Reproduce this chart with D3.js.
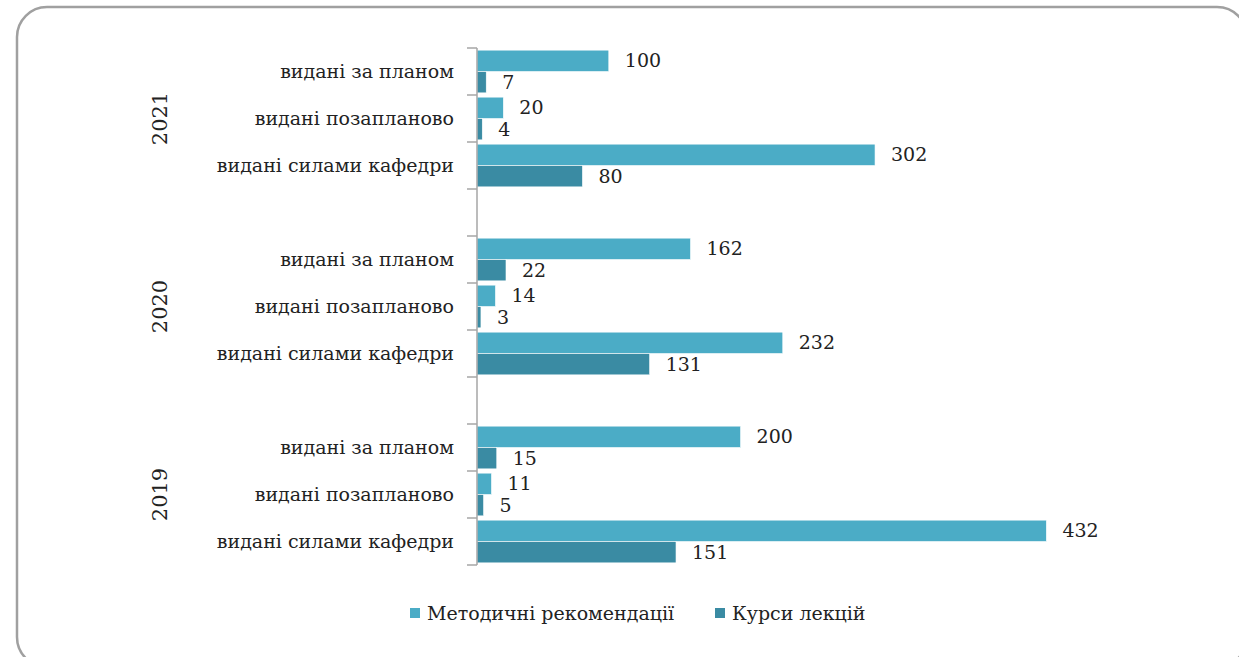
<!DOCTYPE html>
<html>
<head>
<meta charset="utf-8">
<script src="https://cdn.jsdelivr.net/npm/d3@7"></script>
<style>
  body { margin: 0; background: #fff; }
  text { font-family: "DejaVu Serif", "Liberation Serif", serif; fill: #222; }
</style>
</head>
<body>
<div id="chart"></div>
<script>
// data, top to bottom
var years = ["2021", "2020", "2019"];
var categories = ["видані за планом", "видані позапланово", "видані силами кафедри"];
var seriesNames = ["Методичні рекомендації", "Курси лекцій"];
var metodychni = [[100, 20, 302], [162, 14, 232], [200, 11, 432]];
var kursy = [[7, 4, 80], [22, 3, 131], [15, 5, 151]];

var colors = ["#4bacc6", "#3a8ba3"];

var W = 1239, H = 657;
var svg = d3.select("#chart").append("svg")
    .attr("width", W)
    .attr("height", H);

// frame
svg.append("rect")
    .attr("x", 17).attr("y", 7)
    .attr("width", 1230).attr("height", 660)
    .attr("rx", 30).attr("ry", 30)
    .attr("fill", "none")
    .attr("stroke", "#a0a0a0")
    .attr("stroke-width", 2.5);

// rows, with an empty row between year groups
var rows = [];
years.forEach(function(y, yi) {
    if (yi > 0) rows.push({ key: "gap" + yi, gap: true });
    categories.forEach(function(c, ci) {
        rows.push({ key: y + "|" + ci, year: y, cat: c, vals: [metodychni[yi][ci], kursy[yi][ci]] });
    });
});

var axisX = 477;
var y = d3.scaleBand()
    .domain(rows.map(function(d) { return d.key; }))
    .range([48, 565])
    .padding(0);

var inner = d3.scaleBand()
    .domain([0, 1])
    .range([0, y.bandwidth()])
    .paddingOuter(0.1)
    .paddingInner(0);

var x = d3.scaleLinear().domain([0, 500]).range([axisX, axisX + 659]);

var dataRows = rows.filter(function(d) { return !d.gap; });

// bars
var g = svg.selectAll(".row").data(dataRows).enter().append("g")
    .attr("class", "row")
    .attr("transform", function(d) { return "translate(0," + y(d.key) + ")"; });

g.selectAll("rect").data(function(d) { return d.vals; }).enter().append("rect")
    .attr("x", x(0))
    .attr("y", function(d, i) { return inner(i); })
    .attr("width", function(d) { return x(d) - x(0); })
    .attr("height", inner.bandwidth())
    .attr("fill", function(d, i) { return colors[i]; })
    .attr("stroke", "#fff")
    .attr("stroke-width", 0.6);

g.selectAll("text.val").data(function(d) { return d.vals; }).enter().append("text")
    .attr("class", "val")
    .attr("x", function(d) { return x(d) + 16; })
    .attr("y", function(d, i) { return inner(i) + inner.bandwidth() / 2; })
    .attr("dy", "0.35em")
    .style("font-size", "19px")
    .text(function(d) { return d; });

// category labels
g.append("text")
    .attr("x", axisX - 23)
    .attr("y", y.bandwidth() / 2)
    .attr("dy", "0.35em")
    .attr("text-anchor", "end")
    .style("font-size", "19px")
    .text(function(d) { return d.cat; });

// axis line and ticks at every row boundary
var bounds = rows.map(function(d) { return y(d.key); }).concat([y.range()[1]]);
svg.append("line")
    .attr("x1", axisX).attr("x2", axisX)
    .attr("y1", 48).attr("y2", 565)
    .attr("stroke", "#a6a6a6").attr("stroke-width", 1.5);
svg.selectAll(".tick").data(bounds).enter().append("line")
    .attr("class", "tick")
    .attr("x1", axisX - 10).attr("x2", axisX)
    .attr("y1", function(d) { return d; }).attr("y2", function(d) { return d; })
    .attr("stroke", "#a6a6a6").attr("stroke-width", 1.5);

// year labels
years.forEach(function(yr) {
    var first = y(yr + "|0"), last = y(yr + "|" + (categories.length - 1)) + y.bandwidth();
    var cy = (first + last) / 2;
    svg.append("text")
        .attr("transform", "translate(160," + cy + ") rotate(-90)")
        .attr("text-anchor", "middle")
        .attr("dy", "0.35em")
        .style("font-size", "21px")
        .text(yr);
});

// legend
var legendX = [410, 715];
var leg = svg.selectAll(".legend").data(seriesNames).enter().append("g")
    .attr("class", "legend")
    .attr("transform", function(d, i) { return "translate(" + legendX[i] + ",613)"; });
leg.append("rect")
    .attr("x", 0).attr("y", -5)
    .attr("width", 10).attr("height", 10)
    .attr("fill", function(d, i) { return colors[i]; });
leg.append("text")
    .attr("x", 17)
    .attr("dy", "0.35em")
    .style("font-size", "19px")
    .text(function(d) { return d; });
</script>
</body>
</html>
